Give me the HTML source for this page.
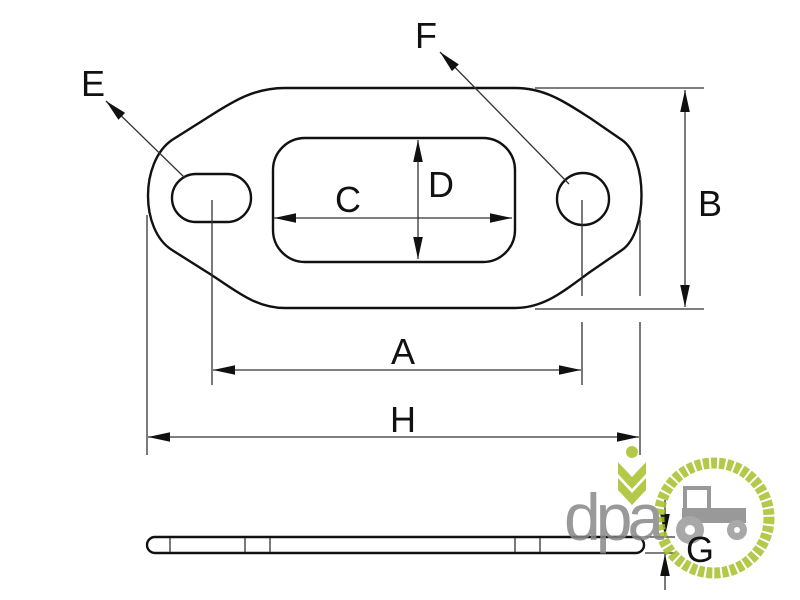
<!DOCTYPE html>
<html><head><style>body{margin:0;background:#fff}svg{display:block}</style></head><body>
<svg width="800" height="600" viewBox="0 0 800 600" xmlns="http://www.w3.org/2000/svg">
<defs>
<marker id="b" viewBox="0 0 10 10" refX="10" refY="5" markerWidth="22" markerHeight="12" markerUnits="userSpaceOnUse" orient="auto-start-reverse" preserveAspectRatio="none"><path d="M0,1 L10,5 L0,9 Z" fill="#111"/></marker>
</defs>
<g fill="none" stroke="#111" stroke-width="2.4">
<path d="M285 88 L515 88 C545 88 565 102 590 118 L622 140 C648 158 648 232 622 250 L590 272 C565 290 545 308 515 308 L285 308 C255 308 235 290 210 274 L172 250 C140 230 140 162 172 140 L210 116 C235 100 255 88 285 88 Z"/>
<rect x="172" y="174" width="79" height="48" rx="24"/>
<circle cx="583" cy="199" r="26"/>
<rect x="273" y="138" width="242" height="124" rx="32"/>
<rect x="147" y="537" width="497" height="16" rx="8"/>
</g>
<g stroke="#333" stroke-width="1.3" fill="none">
<line x1="274" y1="218" x2="512" y2="218" marker-start="url(#b)" marker-end="url(#b)"/>
<line x1="418" y1="140" x2="418" y2="259" marker-start="url(#b)" marker-end="url(#b)"/>
<line x1="185" y1="178" x2="106" y2="101" marker-end="url(#b)"/>
<line x1="569" y1="184" x2="440" y2="52" marker-end="url(#b)"/>
<line x1="535" y1="88" x2="704" y2="88"/>
<line x1="535" y1="309" x2="704" y2="309"/>
<line x1="685" y1="90" x2="685" y2="307" marker-start="url(#b)" marker-end="url(#b)"/>
<line x1="212" y1="200" x2="212" y2="385"/>
<line x1="582" y1="200" x2="582" y2="296"/><line x1="582" y1="322" x2="582" y2="385"/>
<line x1="213" y1="370" x2="581" y2="370" marker-start="url(#b)" marker-end="url(#b)"/>
<line x1="147" y1="215" x2="147" y2="455"/>
<line x1="640" y1="220" x2="640" y2="296"/><line x1="640" y1="322" x2="640" y2="455"/>
<line x1="148" y1="437" x2="639" y2="437" marker-start="url(#b)" marker-end="url(#b)"/>
<line x1="170" y1="538" x2="170" y2="552"/><line x1="245" y1="538" x2="245" y2="552"/><line x1="270" y1="538" x2="270" y2="552"/><line x1="515" y1="538" x2="515" y2="552"/><line x1="540" y1="538" x2="540" y2="552"/>
<line x1="645" y1="537" x2="675" y2="537"/><line x1="645" y1="553" x2="675" y2="553"/>
<line x1="665" y1="500" x2="665" y2="536" marker-end="url(#b)"/>
<line x1="665" y1="590" x2="665" y2="554" marker-end="url(#b)"/>
</g>
<g opacity="0.85">
<circle cx="714" cy="518" r="55" fill="none" stroke="#a8c02a" stroke-width="11" stroke-dasharray="6 2"/>
<path d="M618 462 L632 477 L646 462 L646 474 L632 489 L618 474Z M618 478 L632 493 L646 478 L646 490 L632 505 L618 490Z" fill="#a8c02a"/>
<circle cx="632" cy="452" r="6" fill="#a8c02a"/>
<rect x="685" y="488" width="24" height="24" fill="none" stroke="#888" stroke-width="4"/>
<rect x="682" y="508" width="64" height="15" fill="#888"/>
<circle cx="690" cy="530" r="14" fill="#999"/><circle cx="690" cy="530" r="5" fill="#fff"/>
<circle cx="737" cy="530" r="10" fill="#999"/><circle cx="737" cy="530" r="3" fill="#fff"/>
<text x="564" y="540" font-family="Liberation Sans, sans-serif" font-size="66" fill="#888" letter-spacing="-5">dpa</text>
</g>
<g font-family="Liberation Sans, sans-serif" font-size="36" fill="#111" text-anchor="middle">
<text x="348" y="212">C</text><text x="441" y="197">D</text>
<text x="93" y="96">E</text><text x="426" y="48">F</text>
<text x="710" y="216">B</text><text x="403" y="364">A</text>
<text x="403" y="432">H</text><text x="700" y="562">G</text>
</g>
</svg>
</body></html>
